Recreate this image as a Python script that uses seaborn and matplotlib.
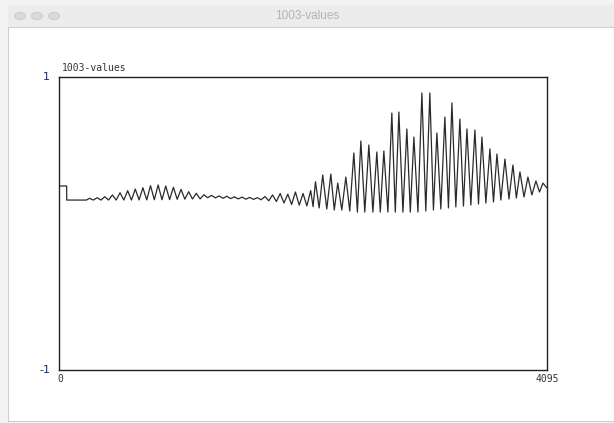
import numpy as np
import pandas as pd
import matplotlib
matplotlib.use("Agg")
import matplotlib.pyplot as plt
from matplotlib.patches import Rectangle, Circle
import seaborn as sns

# ---------------- data (sample index, value) ----------------
title = "1003-values"
x_range = [0, 4095]
y_range = [-1, 1]

step_idx = [0, 64, 65, 230]
step_val = [0.256, 0.256, 0.160, 0.160]

left_idx = [256, 288, 320, 352, 384, 416, 448, 480, 512, 544, 576, 608, 640, 672,
            704, 736, 768, 800, 832, 864, 896, 928, 960, 992, 1024, 1056, 1088, 1120,
            1152, 1184]
left_val = [0.172, 0.160, 0.176, 0.160, 0.183, 0.160, 0.195, 0.160, 0.210, 0.160,
            0.224, 0.160, 0.235, 0.161, 0.244, 0.161, 0.258, 0.162, 0.263, 0.162,
            0.256, 0.163, 0.247, 0.165, 0.233, 0.166, 0.217, 0.167, 0.206, 0.168]

mid_idx = [1216, 1248, 1280, 1312, 1344, 1376, 1408, 1440, 1472, 1504, 1536, 1568,
           1600, 1632, 1664, 1696, 1728]
mid_val = [0.196, 0.176, 0.192, 0.175, 0.188, 0.172, 0.186, 0.170, 0.182, 0.168,
           0.180, 0.166, 0.178, 0.165, 0.176, 0.162, 0.184]

grow_idx = [1760, 1792, 1824, 1856, 1888, 1920, 1952, 1984, 2016, 2048, 2080, 2112, 2132]
grow_val = [0.155, 0.195, 0.150, 0.205, 0.140, 0.200, 0.130, 0.215, 0.125, 0.205,
            0.120, 0.225, 0.115]

right_idx = [2152, 2183, 2213, 2247, 2281, 2310, 2339, 2373, 2407, 2440, 2474, 2504,
             2533, 2566, 2600, 2634, 2667, 2696, 2726, 2760, 2793, 2822, 2852, 2886,
             2919, 2948, 2978, 3012, 3045, 3078, 3112, 3142, 3171, 3204, 3238, 3268,
             3297, 3330, 3364, 3394, 3423, 3456, 3490, 3520, 3549, 3582, 3616, 3646,
             3675, 3708, 3742, 3776, 3809, 3838, 3868, 3902, 3935, 3968, 4002, 4032,
             4061, 4095]
right_val = [0.285, 0.106, 0.331, 0.099, 0.338, 0.092, 0.276, 0.092, 0.317, 0.085,
             0.481, 0.078, 0.563, 0.078, 0.536, 0.078, 0.488, 0.078, 0.495, 0.078,
             0.754, 0.078, 0.761, 0.078, 0.645, 0.078, 0.590, 0.078, 0.891, 0.085,
             0.891, 0.092, 0.618, 0.099, 0.727, 0.106, 0.823, 0.113, 0.713, 0.119,
             0.645, 0.126, 0.638, 0.133, 0.590, 0.140, 0.509, 0.147, 0.474, 0.160,
             0.440, 0.167, 0.399, 0.174, 0.352, 0.181, 0.317, 0.195, 0.290, 0.215,
             0.276, 0.242]

df = pd.DataFrame({
    "index": step_idx + left_idx + mid_idx + grow_idx + right_idx,
    "value": step_val + left_val + mid_val + grow_val + right_val,
})

# ---------------- figure ----------------
W, H = 614, 423
fig = plt.figure(figsize=(W / 100, H / 100), dpi=100)
fig.patch.set_facecolor("#f3f3f3")

def fx(x):
    return x / W

def fy(y):
    return 1 - y / H

# window body
fig.add_artist(Rectangle((fx(8), fy(421)), fx(614) - fx(8), fy(5) - fy(421),
                         transform=fig.transFigure, facecolor="white",
                         edgecolor="#cfcfcf", linewidth=0.8, zorder=0))
# title bar
fig.add_artist(Rectangle((fx(8), fy(27)), fx(614) - fx(8), fy(5) - fy(27),
                         transform=fig.transFigure, facecolor="#ececec",
                         edgecolor="none", zorder=1))
fig.add_artist(plt.Line2D([fx(8), fx(614)], [fy(27.5), fy(27.5)],
                          transform=fig.transFigure, color="#d2d2d2", lw=0.8, zorder=2))
for cx in (20, 37, 54):
    fig.add_artist(Circle((fx(cx), fy(16)), 5.5 / W, transform=fig.transFigure,
                          facecolor="#d9d9d9", edgecolor="#c8c8c8", lw=0.6, zorder=2))
# make circles round: use ellipse aspect fix
fig.text(fx(307), fy(16), title, ha="center", va="center", fontsize=8.5,
         color="#b3b3b3", family="Liberation Sans", zorder=3)

# ---------------- axes ----------------
sns.set_style("white")
ax = fig.add_axes([fx(59), fy(370), fx(547) - fx(59), fy(77) - fy(370)])
ax.set_facecolor("white")
sns.lineplot(data=df, x="index", y="value", ax=ax, color="#2a2a2a",
             linewidth=0.9, estimator=None, sort=False)
ax.set_xlim(x_range)
ax.set_ylim(y_range)
ax.set_xticks([])
ax.set_yticks([])
ax.set_xlabel("")
ax.set_ylabel("")
for s in ax.spines.values():
    s.set_visible(True)
    s.set_color("#222222")
    s.set_linewidth(1.0)

mono = "DejaVu Sans Mono"
ax.text(0.006, 1.012, title, transform=ax.transAxes, ha="left", va="bottom",
        fontsize=7, family=mono, color="#333333")
ax.text(-0.018, 1.0, str(y_range[1]), transform=ax.transAxes, ha="right", va="center",
        fontsize=8, color="#1c2a6b")
ax.text(-0.018, 0.0, str(y_range[0]), transform=ax.transAxes, ha="right", va="center",
        fontsize=8, color="#1c2a6b")
ax.text(-0.004, -0.012, str(x_range[0]), transform=ax.transAxes, ha="left", va="top",
        fontsize=7, family=mono, color="#333333")
ax.text(1.025, -0.012, str(x_range[1]), transform=ax.transAxes, ha="right", va="top",
        fontsize=7, family=mono, color="#333333")

fig.savefig("out.png", dpi=100, facecolor=fig.get_facecolor())
